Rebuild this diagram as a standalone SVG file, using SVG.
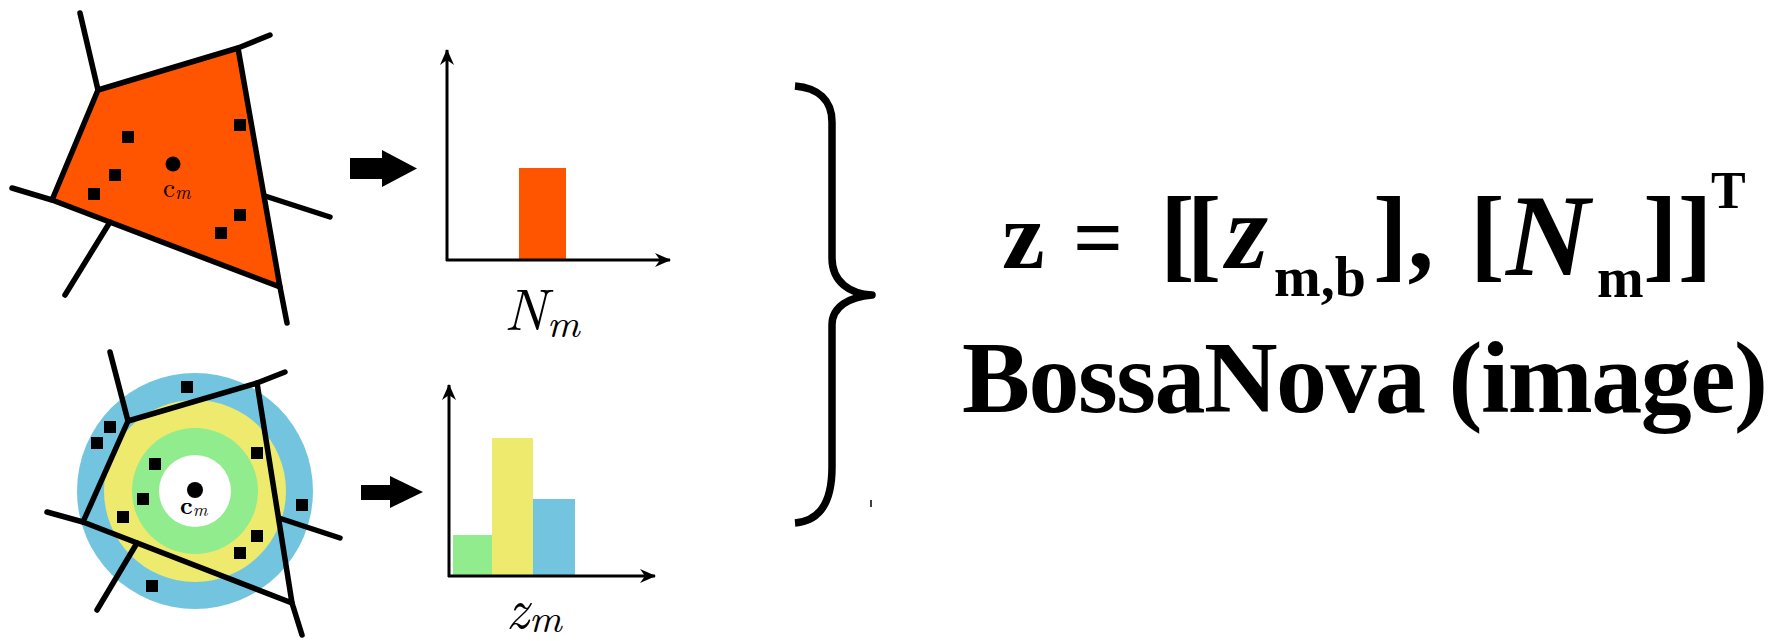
<svg xmlns="http://www.w3.org/2000/svg" width="1784" height="641" viewBox="0 0 1784 641">
<style>
.edge{stroke:#000;stroke-width:5.5;fill:none;stroke-linecap:round;stroke-linejoin:round}
.pt{fill:#000}
.axis{stroke:#000;stroke-width:3;fill:none}
.blk{fill:#000}
.cm{font-family:"Latin Modern Roman","Liberation Serif",serif;fill:#000}
.eq{font-family:"Liberation Serif","Times New Roman",serif;font-weight:bold;fill:#000}
</style>
<defs>
<marker id="ah" markerUnits="userSpaceOnUse" markerWidth="18" markerHeight="16" refX="15" refY="8" orient="auto">
<path d="M0,1 L16,8 L0,15 L5,8 Z" fill="#000"/>
</marker>
</defs>

<g id="cell-top">
<polygon points="98,90 238,48 280,287 52,200" fill="#FF5500"/>
<polyline class="edge" points="98,90 238,48 280,287 52,200 98,90"/>
<line class="edge" x1="98" y1="90" x2="80" y2="13"/>
<line class="edge" x1="238" y1="48" x2="270" y2="35"/>
<line class="edge" x1="280" y1="287" x2="287" y2="323"/>
<line class="edge" x1="52" y1="200" x2="12" y2="188"/>
<line class="edge" x1="265" y1="196" x2="330" y2="217"/>
<line class="edge" x1="110" y1="222" x2="65" y2="295"/>
<rect class="pt" x="122" y="131" width="12" height="12"/>
<rect class="pt" x="109" y="169" width="12" height="12"/>
<rect class="pt" x="88" y="188" width="12" height="12"/>
<rect class="pt" x="234" y="119" width="12" height="12"/>
<rect class="pt" x="234" y="209" width="12" height="12"/>
<rect class="pt" x="215" y="227" width="12" height="12"/>
<circle cx="173" cy="164" r="7.5" fill="#000"/>
<text class="cm" x="163" y="197" font-size="27">c<tspan font-style="italic" font-size="19" dy="2">m</tspan></text>
</g>

<g id="cell-bottom">
<circle cx="195" cy="491" r="118" fill="#73C5DF"/>
<circle cx="195" cy="491" r="91" fill="#EDEA6E"/>
<circle cx="195" cy="491" r="63" fill="#90EC8C"/>
<circle cx="195" cy="491" r="36" fill="#FFFFFF"/>
<polyline class="edge" points="128,421 257,383 292,603 83,522 128,421"/>
<line class="edge" x1="128" y1="421" x2="110" y2="352"/>
<line class="edge" x1="257" y1="383" x2="285" y2="372"/>
<line class="edge" x1="83" y1="522" x2="47" y2="512"/>
<line class="edge" x1="292" y1="603" x2="302" y2="635"/>
<line class="edge" x1="279" y1="518" x2="340" y2="538"/>
<line class="edge" x1="137" y1="543" x2="97" y2="610"/>
<rect class="pt" x="181" y="381" width="12" height="12"/>
<rect class="pt" x="104" y="421" width="12" height="12"/>
<rect class="pt" x="91" y="437" width="12" height="12"/>
<rect class="pt" x="149" y="458" width="12" height="12"/>
<rect class="pt" x="251" y="447" width="12" height="12"/>
<rect class="pt" x="137" y="493" width="12" height="12"/>
<rect class="pt" x="117" y="511" width="12" height="12"/>
<rect class="pt" x="296" y="499" width="12" height="12"/>
<rect class="pt" x="251" y="530" width="12" height="12"/>
<rect class="pt" x="234" y="547" width="12" height="12"/>
<rect class="pt" x="146" y="580" width="12" height="12"/>
<circle cx="195" cy="490" r="8" fill="#000"/>
<text class="cm" x="180" y="514" font-size="25" font-weight="bold">c<tspan font-style="italic" font-weight="normal" font-size="18" dy="2">m</tspan></text>
</g>

<g id="arrow-top">
<polygon class="blk" points="350,158 382,158 382,150 417,168.5 382,187 382,179 350,179"/>
</g>
<g id="arrow-bottom">
<polygon class="blk" points="361,485 390,485 390,476 423,492 390,508 390,500 361,500"/>
</g>

<g id="hist-top">
<rect x="519" y="168" width="47" height="92" fill="#FF5500"/>
<line class="axis" x1="447" y1="261" x2="447" y2="50" marker-end="url(#ah)"/>
<line class="axis" x1="446" y1="260" x2="670" y2="260" marker-end="url(#ah)"/>
<text class="cm" x="504" y="330" font-size="58" font-style="italic">N<tspan font-size="40" dy="7">m</tspan></text>
</g>

<g id="hist-bottom">
<rect x="453" y="535" width="39" height="41" fill="#90EC8C"/>
<rect x="492" y="438" width="41" height="138" fill="#EDEA6E"/>
<rect x="533" y="499" width="42" height="77" fill="#73C5DF"/>
<line class="axis" x1="449" y1="577" x2="449" y2="385" marker-end="url(#ah)"/>
<line class="axis" x1="448" y1="576" x2="655" y2="576" marker-end="url(#ah)"/>
<text class="cm" x="506" y="628" font-size="56" font-style="italic">z<tspan font-size="40" dy="4">m</tspan></text>
</g>

<g id="connectors">
<path d="M795,86 C818,88 832,100 832,122 L832,258 C832,282 850,294 872,295 C850,297 832,306 832,325 L832,467 C832,505 818,521 795,523" fill="none" stroke="#000" stroke-width="7.5" stroke-linejoin="round"/>
<line x1="871" y1="500" x2="871" y2="507" stroke="#000" stroke-width="1.5"/>
</g>

<g id="formula">
<text class="eq" y="268"><tspan x="1002" font-size="96">z</tspan><tspan x="1073" font-size="88">=</tspan><tspan x="1160" font-size="104" letter-spacing="-8">[[</tspan><tspan x="1226" font-size="108" font-style="italic">z</tspan><tspan x="1274" y="296" font-size="56">m,b</tspan><tspan x="1373" y="268" font-size="104">],</tspan><tspan x="1470" font-size="104">[</tspan><tspan x="1506" y="275" font-size="116" font-style="italic">N</tspan><tspan x="1597" y="297" font-size="56">m</tspan><tspan x="1643" y="268" font-size="104">]]</tspan><tspan x="1711" y="208" font-size="52">T</tspan></text>
</g>

<g id="title">
<text class="eq" x="962" y="412" font-size="102" textLength="806" lengthAdjust="spacing">BossaNova (image)</text>
</g>
</svg>
